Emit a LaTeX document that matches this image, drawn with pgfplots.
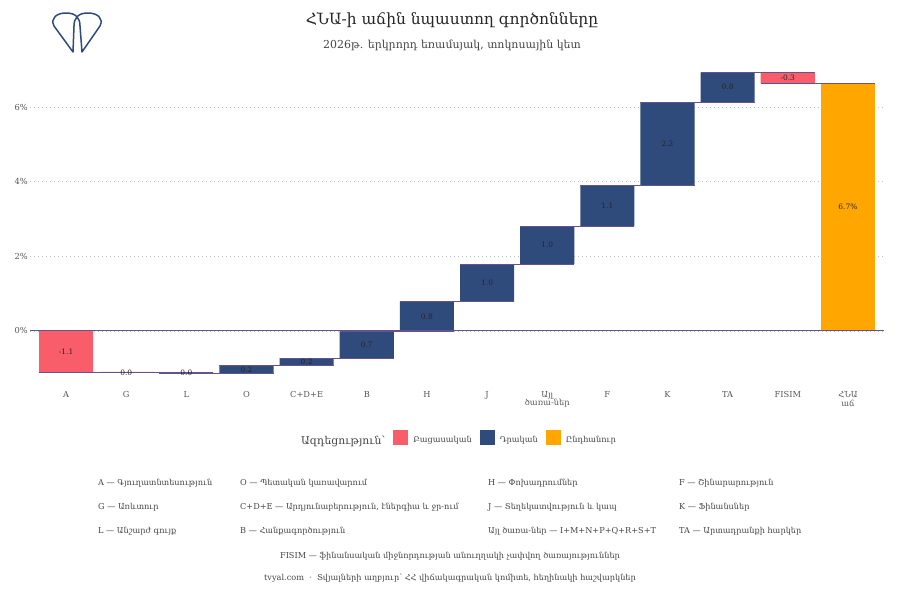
\documentclass[border=0pt]{standalone}
\usepackage{pgfplots}
\pgfplotsset{compat=1.18}
\usepackage{pgfplotstable}
\usepackage{fontspec}
\setmainfont{DejaVu Serif}
\definecolor{negc}{HTML}{F95D6A}
\definecolor{posc}{HTML}{2F4B7C}
\definecolor{totc}{HTML}{FFA600}
\definecolor{conn}{HTML}{665191}
\definecolor{tickc}{HTML}{555555}
\definecolor{notec}{HTML}{444444}

\pgfplotstableread{
x base neg pos tot mid label
0 0 -1.10 0 0 -0.55 {-1.1}
1 -1.10 -0.02 0 0 -1.11 {0.0}
2 -1.12 -0.01 0 0 -1.125 {0.0}
3 -1.13 0 0.20 0 -1.03 {0.2}
4 -0.93 0 0.20 0 -0.83 {0.2}
5 -0.73 0 0.72 0 -0.37 {0.7}
6 -0.01 0 0.80 0 0.39 {0.8}
7 0.79 0 1.00 0 1.29 {1.0}
8 1.79 0 1.02 0 2.30 {1.0}
9 2.81 0 1.09 0 3.355 {1.1}
10 3.90 0 2.23 0 5.015 {2.2}
11 6.13 0 0.80 0 6.53 {0.8}
12 6.93 -0.30 0 0 6.78 {-0.3}
13 0 0 0 6.63 3.315 {6.7\%}
}\wf

\pgfplotstableread{
x y
-0.45 -1.10
1.45 -1.10
nan nan
0.55 -1.12
2.45 -1.12
nan nan
1.55 -1.13
3.45 -1.13
nan nan
2.55 -0.93
4.45 -0.93
nan nan
3.55 -0.73
5.45 -0.73
nan nan
4.55 -0.01
6.45 -0.01
nan nan
5.55 0.79
7.45 0.79
nan nan
6.55 1.79
8.45 1.79
nan nan
7.55 2.81
9.45 2.81
nan nan
8.55 3.90
10.45 3.90
nan nan
9.55 6.13
11.45 6.13
nan nan
10.55 6.93
12.45 6.93
nan nan
11.55 6.63
13.45 6.63
}\conns

\pgfplotsset{
  common/.style={
    at={(30bp,212bp)}, anchor=south west,
    scale only axis, width=854bp, height=331bp,
    xmin=-0.6, xmax=13.6, ymin=-1.53, ymax=7.34,
  }
}

\begin{document}
\begin{tikzpicture}
\useasboundingbox (0,0) rectangle (900bp,600bp);
\begin{axis}[common,
  ybar stacked, stack negative=on previous, bar width=0.9,
  axis line style={draw=none},
  major tick length=0pt,
  xtick={0,...,13},
  xticklabels={A,G,L,O,C+D+E,B,H,J,{Այլ\\ծառա-ներ},F,K,TA,FISIM,{ՀՆԱ\\աճ}},
  xticklabel style={align=center, font=\fontsize{8.3}{8.5}\selectfont, text=tickc, inner sep=3bp},
  ytick={0,2,4,6},
  yticklabels={0\%,2\%,4\%,6\%},
  yticklabel style={font=\fontsize{8.3}{9}\selectfont, text=tickc, inner sep=2bp},
  ymajorgrids,
  grid style={color=black!25, line width=0.7bp, dash pattern=on 0.7bp off 3.3bp},
  legend columns=-1,
  legend style={draw=none, at={(0.5,-0.154)}, anchor=center,
    font=\fontsize{8.2}{9}\selectfont, text=notec,
    /tikz/every odd column/.append style={column sep=3bp},
    /tikz/every even column/.append style={column sep=6bp}},
  legend image code/.code={\fill[#1] (0bp,-5bp) rectangle (15bp,10bp);},
]
\addlegendimage{empty legend}
\addlegendentry{\fontsize{10.8}{12}\selectfont Ազդեցություն՝}
\addplot[draw=none, fill=none, forget plot] table[x=x, y=base] {\wf};
\addplot[draw=none, fill=negc] table[x=x, y=neg] {\wf};
\addlegendentry{Բացասական}
\addplot[draw=none, fill=posc] table[x=x, y=pos] {\wf};
\addlegendentry{Դրական}
\addplot[draw=none, fill=totc] table[x=x, y=tot] {\wf};
\addlegendentry{Ընդհանուր}
\end{axis}
\begin{axis}[common, hide axis]
\addplot[conn, line width=0.9bp] coordinates {(-0.6,0) (13.6,0)};
\addplot[conn, line width=0.9bp, unbounded coords=jump] table[x=x, y=y] {\conns};
\addplot[only marks, mark=none, nodes near coords, point meta=explicit symbolic,
  nodes near coords align={center},
  every node near coord/.append style={anchor=center, font=\fontsize{7.5}{8}\selectfont, text=black!85}]
  table[x=x, y=mid, meta=label] {\wf};
\end{axis}
\begin{scope}[x=1bp, y=1bp]
% logo
\draw[posc, line width=1.5bp, line join=round]
  (73,548) -- (54,574) .. controls (50,582) and (57,587) .. (66,587)
  .. controls (76,587) and (80,582) .. (80,574) -- (82,548)
  -- (100,574) .. controls (104,582) and (97,587) .. (88,587)
  .. controls (78,587) and (74,582) .. (74,574) -- cycle;
\node[font=\fontsize{15.5}{17}\selectfont, text=black!85] at (452,580) {ՀՆԱ-ի աճին նպաստող գործոնները};
\node[font=\fontsize{11}{13}\selectfont, text=notec] at (452,555) {2026թ. երկրորդ եռամսյակ, տոկոսային կետ};
\begin{scope}[every node/.style={anchor=west, font=\fontsize{8.2}{9}\selectfont, text=notec, inner sep=0pt}]
\node at (98,117) {A — Գյուղատնտեսություն};
\node at (98,93) {G — Առևտուր};
\node at (98,69) {L — Անշարժ գույք};
\node at (240,117) {O — Պետական կառավարում};
\node at (240,93) {C+D+E — Արդյունաբերություն, էներգիա և ջր-ում};
\node at (240,69) {B — Հանքագործություն};
\node at (488,117) {H — Փոխադրումներ};
\node at (488,93) {J — Տեղեկատվություն և կապ};
\node at (488,69) {Այլ ծառա-ներ — I+M+N+P+Q+R+S+T};
\node at (679,117) {F — Շինարարություն};
\node at (679,93) {K — Ֆինանսներ};
\node at (679,69) {TA — Արտադրանքի հարկեր};
\end{scope}
\node[font=\fontsize{8.2}{9}\selectfont, text=notec] at (450,44) {FISIM — ֆինանսական միջնորդության անուղղակի չափվող ծառայություններ};
\node[font=\fontsize{8.2}{9}\selectfont, text=notec] at (450,22) {tvyal.com \ · \ Տվյալների աղբյուր՝ ՀՀ վիճակագրական կոմիտե, հեղինակի հաշվարկներ};
\end{scope}
\end{tikzpicture}
\end{document}
